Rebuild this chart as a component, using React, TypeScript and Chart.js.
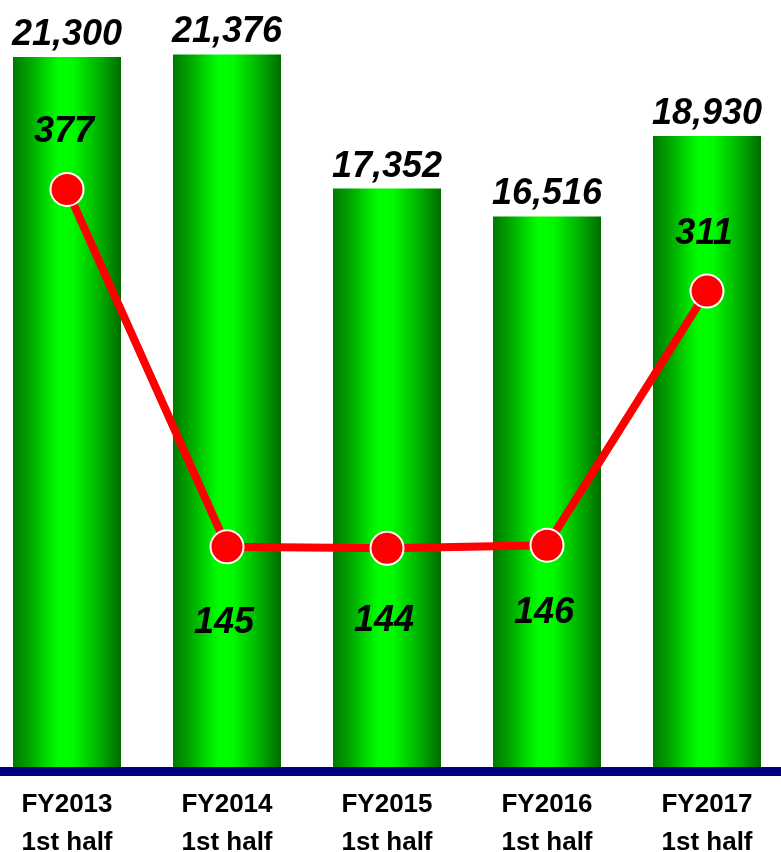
import React, { useEffect, useRef } from "react";
import { Chart, registerables } from "chart.js";

Chart.register(...registerables);

// Half-year results
const categories = [
  ["FY2013", "1st half"],
  ["FY2014", "1st half"],
  ["FY2015", "1st half"],
  ["FY2016", "1st half"],
  ["FY2017", "1st half"],
];
const salesValues = [21300, 21376, 17352, 16516, 18930];
const profitValues = [377, 145, 144, 146, 311];

// label placement for the line values: negative = above the point
const profitLabelOffsets = [-57, 76, 73, 68, -57];

const BAR_PCT = 0.675;
const FONT = '"Liberation Sans", Arial, sans-serif';
const AXIS_BAND = 85; // height below the plot for the category labels

const valueLabels = {
  id: "valueLabels",
  afterDatasetsDraw(chart: any) {
    const ctx = chart.ctx;
    ctx.save();
    // baseline
    const area = chart.chartArea;
    ctx.fillStyle = "#000080";
    ctx.fillRect(0, area.bottom, chart.width, 9);

    ctx.fillStyle = "#000";
    ctx.textAlign = "center";
    ctx.textBaseline = "middle";
    ctx.font = `italic bold 36px ${FONT}`;
    const barMeta = chart.getDatasetMeta(1);
    barMeta.data.forEach((el: any, i: number) => {
      ctx.fillText(salesValues[i].toLocaleString("en-US"), el.x, el.y - 22);
    });
    const lineMeta = chart.getDatasetMeta(0);
    lineMeta.data.forEach((el: any, i: number) => {
      ctx.fillText(String(profitValues[i]), el.x - 3, el.y + profitLabelOffsets[i]);
    });
    ctx.restore();
  },
};

function barGradient(context: any) {
  const chart = context.chart;
  const x = chart.scales?.x;
  if (!x || !chart.chartArea) return "#00e000";
  const cx = x.getPixelForValue(context.dataIndex);
  const w = (x.width / categories.length) * BAR_PCT;
  const g = chart.ctx.createLinearGradient(cx - w / 2, 0, cx + w / 2, 0);
  g.addColorStop(0, "#007800");
  g.addColorStop(0.2, "#00b400");
  g.addColorStop(0.42, "#00ff00");
  g.addColorStop(0.55, "#00fa00");
  g.addColorStop(0.8, "#00b000");
  g.addColorStop(1, "#006c00");
  return g;
}

export default function App() {
  const canvasRef = useRef<HTMLCanvasElement | null>(null);

  useEffect(() => {
    if (!canvasRef.current) return;
    const chart = new Chart(canvasRef.current, {
      type: "bar",
      data: {
        labels: categories,
        datasets: [
          {
            type: "line",
            data: profitValues,
            yAxisID: "y1",
            borderColor: "#ff0000",
            borderWidth: 8,
            pointRadius: 16.5,
            pointBackgroundColor: "#ff0000",
            pointBorderColor: "#ffffff",
            pointBorderWidth: 2,
            tension: 0,
            order: 1,
          } as any,
          {
            type: "bar",
            data: salesValues,
            yAxisID: "y",
            backgroundColor: barGradient,
            borderWidth: 0,
            barPercentage: BAR_PCT,
            categoryPercentage: 1,
            order: 2,
          },
        ],
      },
      options: {
        animation: false,
        responsive: false,
        maintainAspectRatio: false,
        layout: { padding: 0, autoPadding: false },
        plugins: {
          legend: { display: false },
          tooltip: { enabled: false },
        },
        scales: {
          x: {
            grid: { display: false },
            border: { display: false },
            ticks: {
              color: "#000",
              font: { family: FONT, size: 26, weight: "bold", lineHeight: 1.45 },
              padding: 11,
              maxRotation: 0,
              autoSkip: false,
            },
            afterFit(scale: any) {
              scale.height = AXIS_BAND;
            },
          },
          y: { display: false, min: 0, max: 23010 },
          y1: { display: false, min: 2, max: 500 },
        },
      },
      plugins: [valueLabels],
    });
    return () => chart.destroy();
  }, []);

  return (
    <div
      style={{
        position: "fixed",
        left: 0,
        top: 0,
        width: 781,
        height: 852,
        overflow: "hidden",
        background: "#fff",
      }}
    >
      <canvas
        ref={canvasRef}
        width={800}
        height={852}
        style={{ position: "absolute", left: -13, top: 0, width: 800, height: 852 }}
      />
    </div>
  );
}
